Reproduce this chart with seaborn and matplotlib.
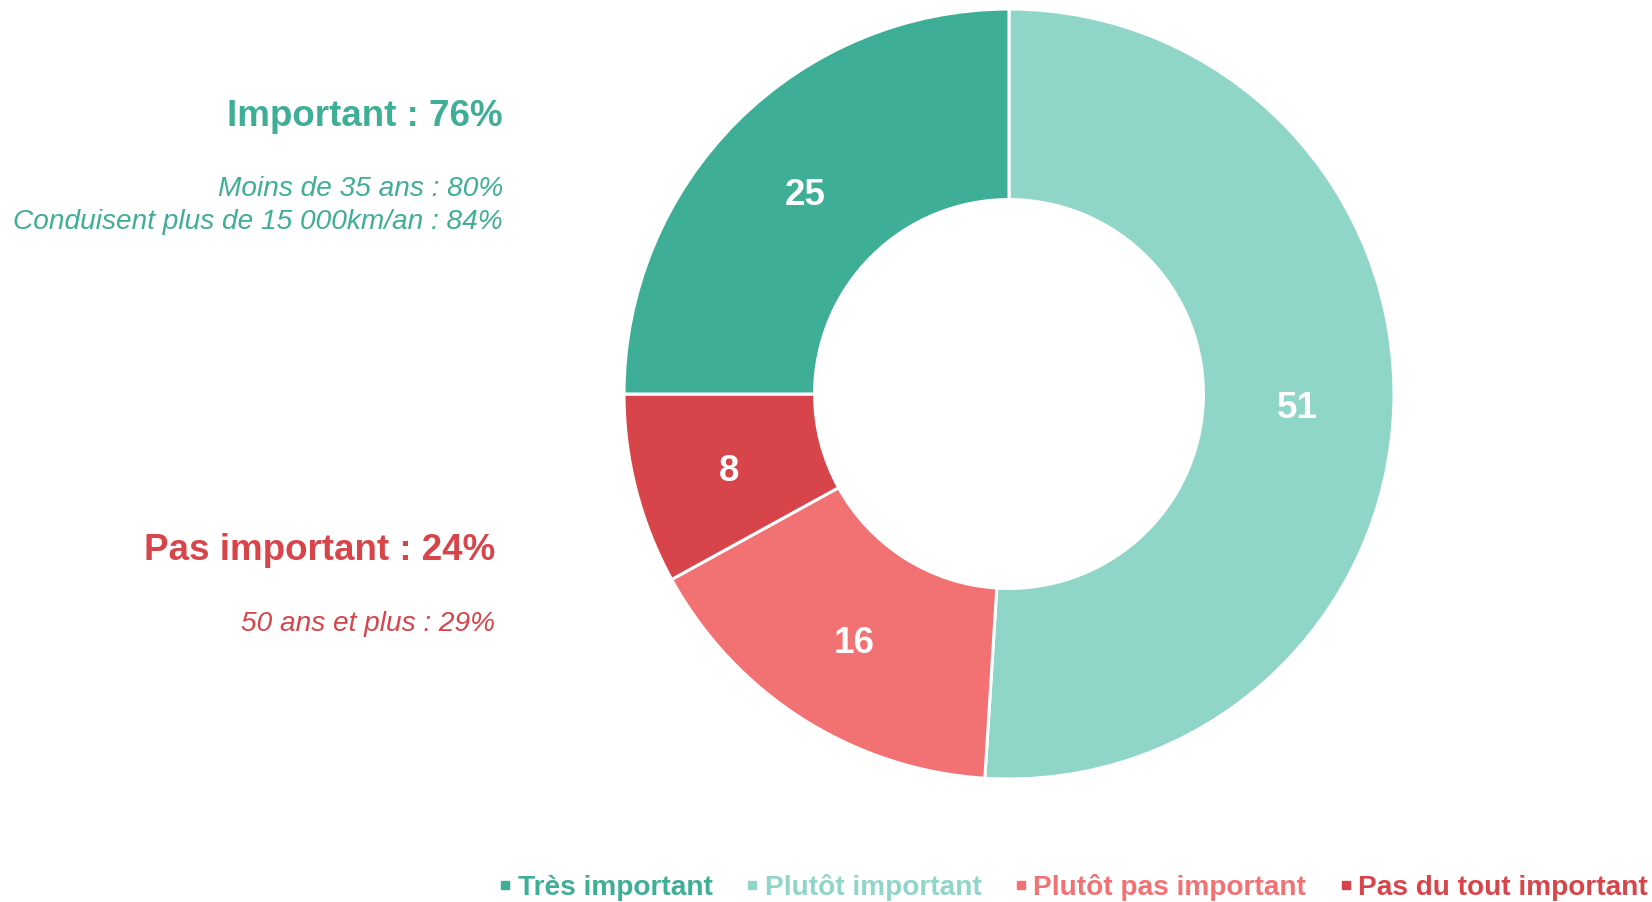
import matplotlib
matplotlib.use("Agg")
import matplotlib.pyplot as plt
from matplotlib.lines import Line2D
import seaborn as sns

categories = ["Très important", "Plutôt important", "Plutôt pas important", "Pas du tout important"]
values = [25, 51, 16, 8]
colors = ["#3FAE96", "#8FD6C8", "#F27274", "#D7444A"]

# drawing order clockwise from top
draw_order = [1, 2, 3, 0]

sns.set_theme(style="white")
plt.rcParams["font.family"] = ["Liberation Sans", "DejaVu Sans"]

W, H = 1652, 903
fig = plt.figure(figsize=(W / 100, H / 100), dpi=100)
cx, cy, R = 1009, 395, 385
ax = fig.add_axes([(cx - R) / W, (H - cy - R) / H, 2 * R / W, 2 * R / H])

vals = [values[i] for i in draw_order]
cols = [colors[i] for i in draw_order]
wedges, texts = ax.pie(
    vals, colors=cols, startangle=90, counterclock=False, radius=1.0,
    labels=[str(v) for v in vals], labeldistance=0.75,
    wedgeprops=dict(width=0.495, edgecolor="white", linewidth=2.2),
    textprops=dict(color="white", fontsize=26.5, fontweight="bold", ha="center", va="center"),
)
for t in texts:
    x, y = t.get_position()
    t.set_position((x, y - 0.012))
ax.set_xlim(-1.0, 1.0)
ax.set_ylim(-1.0, 1.0)
ax.set_aspect("equal")
ax.axis("off")

def fx(x):
    return x / W

def fy(y):
    return 1 - y / H

green, red = colors[0], colors[3]
fig.text(fx(503), fy(116), "Important : 76%", color=green, fontsize=26.5, fontweight="bold", ha="right", va="center")
fig.text(fx(503), fy(189), "Moins de 35 ans : 80%", color=green, fontsize=20.2, style="italic", ha="right", va="center")
fig.text(fx(503), fy(222), "Conduisent plus de 15 000km/an : 84%", color=green, fontsize=20.2, style="italic", ha="right", va="center")
fig.text(fx(495), fy(551), "Pas important : 24%", color=red, fontsize=26.5, fontweight="bold", ha="right", va="center")
fig.text(fx(495), fy(624), "50 ans et plus : 29%", color=red, fontsize=20.2, style="italic", ha="right", va="center")

handles = [Line2D([0], [0], marker="s", linestyle="none", markersize=5.5, color=c) for c in colors]
leg = fig.legend(handles, categories, loc="center right", bbox_to_anchor=(fx(1648), fy(888)),
                 ncol=4, frameon=False, handlelength=0.5, handletextpad=0.2, columnspacing=1.15,
                 borderpad=0, borderaxespad=0,
                 prop=dict(family="Liberation Sans", weight="bold", size=20.2))
for t, c in zip(leg.get_texts(), colors):
    t.set_color(c)

fig.savefig("out.png", dpi=100)
